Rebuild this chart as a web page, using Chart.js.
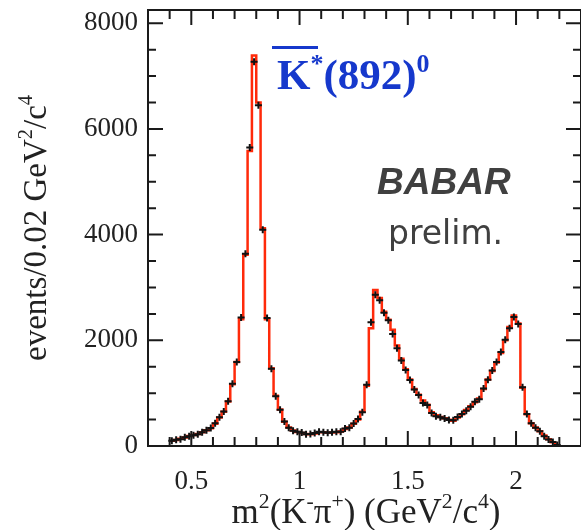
<!DOCTYPE html>
<html>
<head>
<meta charset="utf-8">
<script src="https://cdn.jsdelivr.net/npm/chart.js@4"></script>
<style>
html, body { margin: 0; padding: 0; background: #fff; }
</style>
</head>
<body>
<canvas id="myChart" width="581" height="530"></canvas>
<script>
// bin centres, m^2(K-pi+) in GeV^2/c^4 (bins of 0.02)
const binCenters = [
  0.41, 0.43, 0.45, 0.47, 0.49, 0.51, 0.53, 0.55, 0.57, 0.59,
  0.61, 0.63, 0.65, 0.67, 0.69, 0.71, 0.73, 0.75, 0.77, 0.79,
  0.81, 0.83, 0.85, 0.87, 0.89, 0.91, 0.93, 0.95, 0.97, 0.99,
  1.01, 1.03, 1.05, 1.07, 1.09, 1.11, 1.13, 1.15, 1.17, 1.19,
  1.21, 1.23, 1.25, 1.27, 1.29, 1.31, 1.33, 1.35, 1.37, 1.39,
  1.41, 1.43, 1.45, 1.47, 1.49, 1.51, 1.53, 1.55, 1.57, 1.59,
  1.61, 1.63, 1.65, 1.67, 1.69, 1.71, 1.73, 1.75, 1.77, 1.79,
  1.81, 1.83, 1.85, 1.87, 1.89, 1.91, 1.93, 1.95, 1.97, 1.99,
  2.01, 2.03, 2.05, 2.07, 2.09, 2.11, 2.13, 2.15, 2.17, 2.19
];
const binWidth = 0.02;

// fit projection (red histogram)
const fitCounts = [
  100, 112, 135, 160, 190, 210, 225, 258, 300, 335,
  420, 540, 650, 840, 1170, 1590, 2400, 3620, 5580, 7390,
  6500, 4120, 2400, 1470, 950, 690, 460, 350, 295, 265,
  248, 225, 220, 238, 262, 262, 252, 255, 262, 275,
  320, 350, 420, 500, 650, 1140, 2230, 2950, 2800, 2540,
  2390, 2200, 1900, 1650, 1450, 1260, 1080, 970, 860, 780,
  640, 580, 550, 525, 495, 480, 540, 600, 680, 750,
  830, 900, 1080, 1260, 1420, 1580, 1760, 2000, 2250, 2470,
  2320, 1100, 600, 430, 350, 280, 200, 130, 70, 20
];

// data (black crosses)
const dataCounts = [
  98, 118, 130, 165, 185, 205, 222, 262, 298, 340,
  430, 545, 655, 845, 1180, 1590, 2430, 3640, 5650, 7270,
  6450, 4090, 2420, 1460, 940, 685, 465, 345, 290, 270,
  255, 222, 225, 245, 268, 258, 250, 260, 268, 272,
  330, 345, 425, 510, 640, 1160, 2340, 2860, 2760, 2520,
  2380, 2120, 1850, 1620, 1440, 1250, 1070, 965, 815, 775,
  625, 565, 545, 520, 490, 485, 550, 605, 665, 745,
  835, 885, 1090, 1255, 1430, 1590, 1780, 2010, 2230, 2440,
  2310, 1110, 605, 430, 345, 280, 185, 125, 78, 20
];

const xTickLabels = [0.5, 1, 1.5, 2];
const yTickLabels = [0, 2000, 4000, 6000, 8000];

const serif = '"Liberation Serif", "Times New Roman", serif';
const sans = '"Liberation Sans", Arial, sans-serif';

// step histogram: one point per bin low edge, plus the last high edge
const fitSteps = binCenters.map((c, i) => ({ x: c - binWidth / 2, y: fitCounts[i] }));
fitSteps.push({ x: binCenters[binCenters.length - 1] + binWidth / 2, y: fitCounts[fitCounts.length - 1] });

const dataPoints = binCenters.map((c, i) => ({ x: c, y: dataCounts[i] }));

// draws text pieces with superscripts, centred on (cx, cy)
function drawRich(ctx, parts, cx, cy, size) {
    const sup = size * 0.62;
    let w = 0;
    parts.forEach(p => {
        ctx.font = (p.sup ? sup : size) + 'px ' + serif;
        p.w = ctx.measureText(p.t).width;
        w += p.w;
    });
    let x = cx - w / 2;
    ctx.textBaseline = 'alphabetic';
    ctx.textAlign = 'left';
    parts.forEach(p => {
        ctx.font = (p.sup ? sup : size) + 'px ' + serif;
        ctx.fillText(p.t, x, cy + size * 0.33 - (p.sup ? size * 0.42 : 0));
        x += p.w;
    });
}

const framePlugin = {
    id: 'frame',
    afterDatasetsDraw(chart) {
        const { ctx, chartArea: a, scales: { x, y } } = chart;
        ctx.save();
        ctx.strokeStyle = '#1a1a1a';
        ctx.lineWidth = 2;
        ctx.strokeRect(a.left, a.top, a.right - a.left, a.bottom - a.top);
        ctx.beginPath();
        // x ticks every 0.1, major at labels
        for (let k = 3; k <= 23; k++) {
            const v = k / 10;
            const px = x.getPixelForValue(v);
            if (px <= a.left + 1 || px >= a.right - 1) continue;
            const len = (k % 5 === 0) ? 15 : 9;
            ctx.moveTo(px, a.bottom); ctx.lineTo(px, a.bottom - len);
            ctx.moveTo(px, a.top); ctx.lineTo(px, a.top + len);
        }
        // y ticks every 500, major at 2000
        for (let v = 500; v <= 8000; v += 500) {
            const py = y.getPixelForValue(v);
            const len = (v % 2000 === 0) ? 15 : 8;
            ctx.moveTo(a.left, py); ctx.lineTo(a.left + len, py);
            ctx.moveTo(a.right, py); ctx.lineTo(a.right - len, py);
        }
        ctx.stroke();
        ctx.restore();
    },
    afterDraw(chart) {
        const { ctx, chartArea: a } = chart;
        ctx.save();
        ctx.fillStyle = '#222';
        // x-axis title (centred on the visible part of the frame)
        drawRich(ctx, [
            { t: 'm' }, { t: '2', sup: true }, { t: '(K' }, { t: '-', sup: true }, { t: '\u03c0' },
            { t: '+', sup: true }, { t: ') (GeV' }, { t: '2', sup: true }, { t: '/c' }, { t: '4', sup: true }, { t: ')' }
        ], 366, 511, 35);
        // y-axis title
        ctx.translate(35, (a.top + a.bottom) / 2);
        ctx.rotate(-Math.PI / 2);
        drawRich(ctx, [
            { t: 'events/0.02 GeV' }, { t: '2', sup: true }, { t: '/c' }, { t: '4', sup: true }
        ], 0, 0, 33);
        ctx.restore();

        // resonance label
        ctx.save();
        ctx.fillStyle = '#1638cc';
        ctx.textBaseline = 'alphabetic';
        ctx.textAlign = 'left';
        let px = 277, base = 89;
        ctx.font = 'bold 43px ' + serif;
        ctx.fillText('K', px, base);
        const kw = ctx.measureText('K').width;
        ctx.fillRect(272, 46, 46, 3);
        px += kw;
        ctx.font = 'bold 26px ' + serif;
        ctx.fillText('*', px, base - 17);
        px += ctx.measureText('*').width;
        ctx.font = 'bold 43px ' + serif;
        ctx.fillText('(892)', px, base);
        px += ctx.measureText('(892)').width;
        ctx.font = 'bold 26px ' + serif;
        ctx.fillText('0', px, base - 17);
        ctx.restore();

        // experiment tag
        ctx.save();
        ctx.fillStyle = '#404040';
        ctx.textBaseline = 'alphabetic';
        ctx.textAlign = 'left';
        ctx.font = 'italic bold 37px ' + sans;
        ctx.fillText('BABAR', 377, 194);
        ctx.font = '33px "DejaVu Sans", sans-serif';
        ctx.fillText('prelim.', 388, 244);
        ctx.restore();
    }
};

const ctx = document.getElementById('myChart').getContext('2d');
const myChart = new Chart(ctx, {
    type: 'scatter',
    data: {
        datasets: [
            {
                type: 'line',
                label: 'fit',
                data: fitSteps,
                stepped: 'before',
                borderColor: '#ff2a0a',
                borderWidth: 2.5,
                pointRadius: 0,
                fill: false,
                order: 2,
            },
            {
                label: 'data',
                data: dataPoints,
                pointStyle: 'cross',
                pointRadius: 3.5,
                borderColor: '#111',
                backgroundColor: '#111',
                pointBorderWidth: 2,
                order: 1,
            }
        ]
    },
    options: {
        responsive: false,
        animation: false,
        layout: { autoPadding: false, padding: { top: 10, right: -1, left: 0, bottom: 0 } },
        plugins: { legend: { display: false }, tooltip: { enabled: false } },
        scales: {
            x: {
                type: 'linear',
                min: 0.3,
                max: 2.3,
                grid: { display: false, drawTicks: false },
                border: { display: false },
                afterBuildTicks: s => { s.ticks = xTickLabels.map(v => ({ value: v })); },
                afterFit: s => { s.height = 84; s.paddingLeft = 0; s.paddingRight = 0; },
                ticks: {
                    padding: 20,
                    color: '#222',
                    maxRotation: 0,
                    autoSkip: false,
                    font: { family: serif, size: 27 },
                    callback: v => String(v),
                },
            },
            y: {
                min: 0,
                max: 8250,
                grid: { display: false, drawTicks: false },
                border: { display: false },
                afterBuildTicks: s => { s.ticks = yTickLabels.map(v => ({ value: v })); },
                afterFit: s => { s.width = 148; s.paddingTop = 0; s.paddingBottom = 0; },
                ticks: {
                    padding: 10,
                    color: '#222',
                    font: { family: serif, size: 27 },
                    callback: v => String(v),
                },
            },
        },
    },
    plugins: [framePlugin],
});
</script>
</body>
</html>
